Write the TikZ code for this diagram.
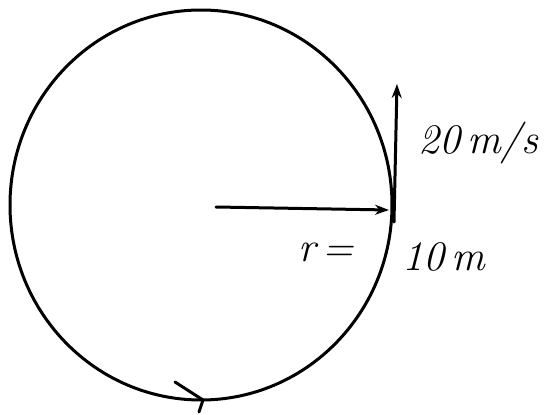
\documentclass[tikz,border=0pt]{standalone}
\usetikzlibrary{arrows.meta}
\begin{document}
\begin{tikzpicture}[x=1pt,y=-1pt,
  ink/.style={line width=3pt,line cap=round,line join=round,black},
  vec/.style={ink,-{Stealth[length=14pt,width=10pt]}},
  lbl/.style={font=\fontsize{42}{42}\selectfont\itshape,inner sep=0pt}]
\useasboundingbox (0,0) rectangle (550,415);
\coordinate (o) at (216,207);
\coordinate (c) at (201,205);
\coordinate (p) at (389,210);
\coordinate (pb) at (394,222);
\coordinate (vt) at (397,84);
\draw[ink] (c) ellipse [x radius=191,y radius=195];
% direction mark at the bottom
\coordinate (b) at (203,400);
\draw[ink] (b) -- ++(-28,-18);
\draw[ink] (b) -- ++(-4,12);
% radius and velocity
\draw[vec] (o) -- (p);
\draw[vec] (pb) -- (vt);
\node[lbl,anchor=west] (v) at (418,143) {20\,m/s};
\node[lbl,anchor=west] (r) at (298,252) {r\,=};
\node[lbl,anchor=west] (d) at (402,257) {10\,m};
\end{tikzpicture}
\end{document}
